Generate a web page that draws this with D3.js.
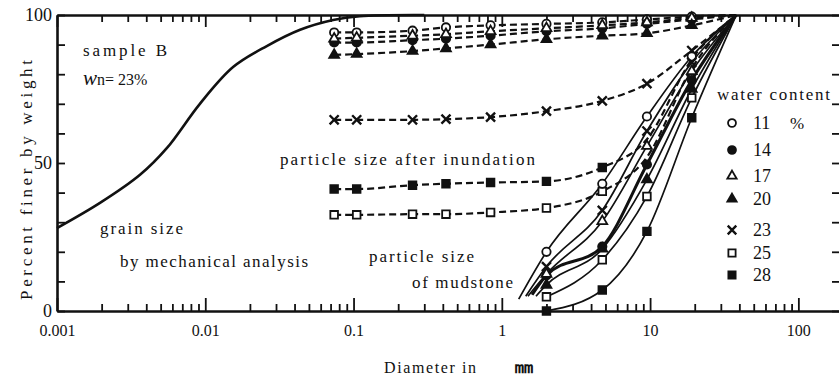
<!DOCTYPE html>
<html>
<head>
<meta charset="utf-8">
<script src="https://cdn.jsdelivr.net/npm/d3@7"></script>
<style>
body { margin: 0; background: #fff; }
svg text { font-family: "Liberation Serif", "Times New Roman", "DejaVu Serif", serif !important; fill: #111; }
</style>
</head>
<body>
<div id="chart"></div>
<script>
// ---- data ----
const waterContent = [11, 14, 17, 20, 23, 25, 28];

// grain size by mechanical analysis
const grainD = [0.001, 0.00195, 0.00363, 0.0055, 0.0092, 0.0154, 0.026, 0.0436, 0.0728, 0.11, 0.3];
const grainP = [28, 36.5, 46, 55, 70, 82.4, 89.5, 95, 98.3, 99.6, 100];

// particle size after inundation (dashed), sieve sizes in mm
const sieveD = [0.074, 0.105, 0.25, 0.42, 0.84, 2.0, 4.76, 9.52, 19.1, 38.1];
const inund11 = [94.1, 94.1, 94.7, 95.8, 96.5, 97.0, 97.5, 98.5, 99.5, 100];
const inund14 = [90.7, 90.7, 91.5, 92.0, 93.0, 94.5, 95.5, 97.0, 98.5, 100];
const inund17 = [92.0, 92.3, 93.0, 93.5, 94.5, 95.5, 96.5, 97.5, 99.0, 100];
const inund20 = [86.5, 86.8, 87.8, 88.7, 90.0, 91.8, 93.0, 93.8, 96.5, 100];
const inund23 = [64.6, 64.6, 64.6, 64.8, 65.5, 67.5, 71.0, 76.8, 88.0, 100];
const inund25 = [32.5, 32.5, 32.7, 32.7, 33.3, 34.8, 40.4, 52.0, 82.0, 100];
const inund28 = [41.2, 41.2, 42.5, 43.0, 43.4, 43.8, 48.5, 58.0, 85.0, 100];
const inundLastMarker = [8, 8, 8, 8, 8, 6, 6];

// particle size of mudstone (solid)
const mudD = [2.0, 4.76, 9.52, 19.1, 38.1];
const mud11 = [20.0, 43.0, 65.7, 86.0, 100];
const mud14 = [12.0, 21.8, 49.5, 78.0, 100];
const mud17 = [12.5, 30.3, 55.7, 81.0, 100];
const mud20 = [8.8, 21.0, 44.4, 75.0, 100];
const mud23 = [15.0, 34.0, 60.8, 84.0, 100];
const mud25 = [4.8, 17.3, 38.7, 72.0, 100];
const mud28 = [0.0, 7.1, 26.9, 65.3, 100];
// where each mudstone line begins below the 2 mm point
const mudStartD = [1.3, 1.6, 1.5, 1.7, 1.45, null, null];
const mudStartP = [4, 5.5, 5, 5, 5, null, null];

const xTickValues = [0.001, 0.01, 0.1, 1, 10, 100];
const xTickLabels = ["0.001", "0.01", "0.1", "1", "10", "100"];
const yTickValues = [0, 10, 20, 30, 40, 50, 60, 70, 80, 90, 100];
const yTickLabels = ["0", "", "", "", "", "50", "", "", "", "", "100"];

const inundSeries = [inund11, inund14, inund17, inund20, inund23, inund25, inund28];
const mudSeries = [mud11, mud14, mud17, mud20, mud23, mud25, mud28];
const markerKinds = ["circleOpen", "circleFilled", "triOpen", "triFilled", "cross", "squareOpen", "squareFilled"];

// ---- chart ----
const width = 839, height = 378;
const svg = d3.select("#chart").append("svg").attr("width", width).attr("height", height);

const x = d3.scaleLog().domain([0.001, 200]).range([57, 843]);
const y = d3.scaleLinear().domain([0, 100]).range([311, 15]);

const minorTicks = [];
xTickValues.forEach(dec => {
  for (let k = 2; k <= 9; k++) {
    const v = +(dec * k).toPrecision(3);
    if (v <= 200) minorTicks.push(v);
  }
});

function styleAxis(g, w) {
  g.select(".domain").attr("stroke", "#111").attr("stroke-width", w);
  g.selectAll(".tick line").attr("stroke", "#111").attr("stroke-width", 1.8);
}

// bottom
svg.append("g").attr("transform", "translate(0,311)")
  .call(d3.axisBottom(x).tickValues(minorTicks).tickFormat("").tickSizeInner(-7).tickSizeOuter(0))
  .call(g => g.select(".domain").remove())
  .call(g => g.selectAll(".tick line").attr("stroke", "#111").attr("stroke-width", 1.8));
svg.append("g").attr("transform", "translate(0,311)")
  .call(d3.axisBottom(x).tickValues(xTickValues).tickFormat((d, i) => xTickLabels[i])
    .tickSizeInner(-13).tickSizeOuter(0).tickPadding(14))
  .call(g => styleAxis(g, 2.6))
  .call(g => g.selectAll("text").attr("font-size", 16).attr("fill", "#111"));

// top
svg.append("g").attr("transform", "translate(0,15)")
  .call(d3.axisTop(x).tickValues(minorTicks).tickFormat("").tickSizeInner(-7).tickSizeOuter(0))
  .call(g => g.select(".domain").remove())
  .call(g => g.selectAll(".tick line").attr("stroke", "#111").attr("stroke-width", 1.8));
svg.append("g").attr("transform", "translate(0,15)")
  .call(d3.axisTop(x).tickValues(xTickValues).tickFormat("").tickSizeInner(-12).tickSizeOuter(0))
  .call(g => styleAxis(g, 2.6));

// left
svg.append("g").attr("transform", "translate(57,0)")
  .call(d3.axisLeft(y).tickValues(yTickValues).tickFormat((d, i) => yTickLabels[i])
    .tickSizeInner(-8).tickSizeOuter(0).tickPadding(5))
  .call(g => styleAxis(g, 2.6))
  .call(g => g.selectAll("text").attr("font-size", 18).attr("fill", "#111"));

// right
svg.append("g").attr("transform", "translate(843,0)")
  .call(d3.axisRight(y).tickValues(yTickValues).tickFormat("").tickSizeInner(-11).tickSizeOuter(0))
  .call(g => styleAxis(g, 2.6));

const line = d3.line().x(d => x(d[0])).y(d => y(d[1])).curve(d3.curveMonotoneX);
const smooth = d3.line().x(d => x(d[0])).y(d => y(d[1])).curve(d3.curveCatmullRom.alpha(0.5));

// grain size curve
svg.append("path")
  .datum(grainD.map((d, i) => [d, grainP[i]]))
  .attr("d", smooth).attr("fill", "none").attr("stroke", "#111").attr("stroke-width", 2.6);

// mudstone lines
mudSeries.forEach((vals, s) => {
  const pts = mudD.map((d, i) => [d, vals[i]]);
  if (mudStartD[s] !== null) pts.unshift([mudStartD[s], mudStartP[s]]);
  svg.append("path").datum(pts).attr("d", line)
    .attr("fill", "none").attr("stroke", "#111")
    .attr("stroke-width", waterContent[s] === 14 ? 3 : 1.7);
});

// inundation lines
inundSeries.forEach(vals => {
  svg.append("path").datum(sieveD.map((d, i) => [d, vals[i]])).attr("d", line)
    .attr("fill", "none").attr("stroke", "#111").attr("stroke-width", 2.2)
    .attr("stroke-dasharray", "7,4");
});

function drawMarker(kind, px, py, scale) {
  const k = scale || 1;
  const filled = kind.endsWith("Filled");
  let type, size;
  if (kind.startsWith("circle")) { type = d3.symbolCircle; size = 55 * k; }
  else if (kind.startsWith("tri")) { type = d3.symbolTriangle; size = 42 * k; }
  else if (kind.startsWith("square")) { type = d3.symbolSquare; size = 58 * k; }
  else { type = d3.symbolTimes; size = 55 * k; }
  svg.append("path")
    .attr("d", d3.symbol().type(type).size(size)())
    .attr("transform", `translate(${px},${py})`)
    .attr("fill", kind === "cross" ? "none" : (filled ? "#111" : "#fff"))
    .attr("stroke", "#111")
    .attr("stroke-width", kind === "cross" ? 2.4 : 1.8);
}

// markers
inundSeries.forEach((vals, s) => {
  sieveD.forEach((d, i) => {
    if (i <= inundLastMarker[s]) drawMarker(markerKinds[s], x(d), y(vals[i]));
  });
});
mudSeries.forEach((vals, s) => {
  mudD.forEach((d, i) => {
    if (vals[i] < 100) drawMarker(markerKinds[s], x(d), y(vals[i]));
  });
});

// annotations
function label(txt, px, py, size, len) {
  const t = svg.append("text").attr("x", px).attr("y", py).attr("font-size", size).text(txt);
  if (len) t.attr("textLength", len).attr("lengthAdjust", "spacing");
  return t;
}
label("sample  B", 83, 56, 17, 84);
const wn = svg.append("text").attr("x", 83).attr("y", 85).attr("font-size", 16);
wn.append("tspan").attr("font-style", "italic").attr("font-size", 21).text("w");
wn.append("tspan").text("n= 23%");
label("particle  size  after  inundation", 280, 165, 17, 255);
label("grain  size", 100, 234, 17, 83);
label("by  mechanical analysis", 120, 267, 17, 188);
label("particle  size", 369, 262, 17, 105);
label("of  mudstone", 412, 288, 17, 101);
label("water  content", 717, 100, 17, 113);

// legend
waterContent.forEach((w, i) => {
  const ly = [123, 150, 176, 199, 230, 253, 275][i];
  drawMarker(markerKinds[i], 732, ly, 0.9);
  label(String(w), 753, ly + 6, 18);
});
label("%", 790, 129, 17);

// axis titles
label("Diameter  in", 384, 373, 16, 92);
label("\u339C", 514, 373, 20).attr("font-weight", "bold");
svg.append("text")
  .attr("transform", "translate(32,180) rotate(-90)")
  .attr("text-anchor", "middle").attr("font-size", 17)
  .attr("textLength", 240).attr("lengthAdjust", "spacing")
  .text("Percent  finer  by  weight");
</script>
</body>
</html>
